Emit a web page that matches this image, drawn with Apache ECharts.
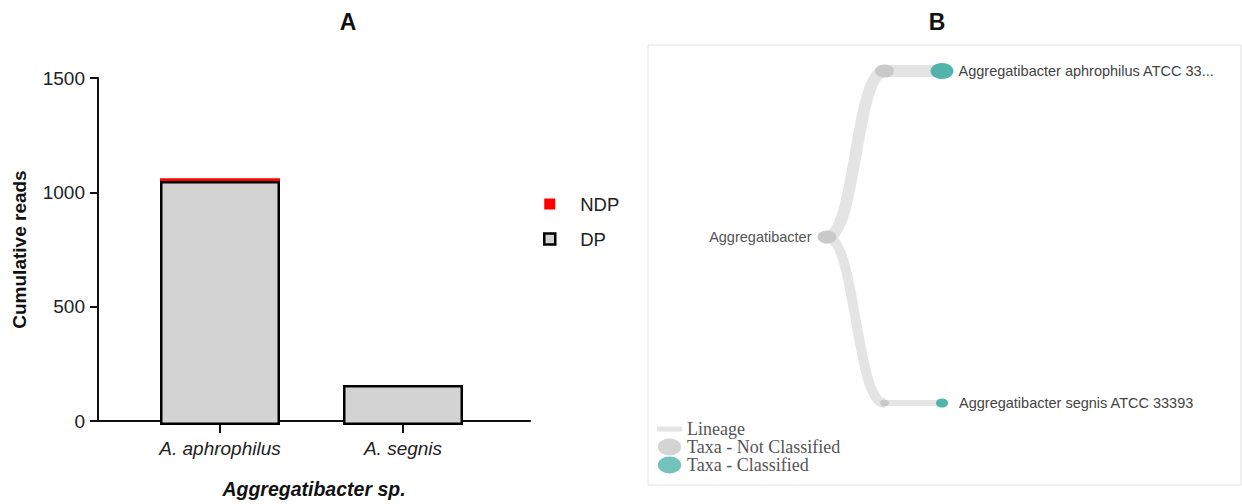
<!DOCTYPE html>
<html>
<head>
<meta charset="utf-8">
<script src="https://cdn.jsdelivr.net/npm/echarts@6/dist/echarts.min.js"></script>
<style>html,body{margin:0;padding:0;background:#fff}#c{width:1242px;height:504px}</style>
</head>
<body>
<div id="c"></div>
<script>
// ---- Panel A data ----
const categories = ['A. aphrophilus', 'A. segnis'];
const dpValues = [1055, 173];
const ndpValues = [12, 0];
const yTicks = [0, 500, 1000, 1500];

// ---- Panel B data ----
const rootName = 'Aggregatibacter';
const leafNames = ['Aggregatibacter aphrophilus ATCC 33...', 'Aggregatibacter segnis ATCC 33393'];
const treeLegend = ['Lineage', 'Taxa - Not Classified', 'Taxa - Classified'];

const SANS = '"Liberation Sans", Arial, sans-serif';
const SERIF = '"Liberation Serif", "Times New Roman", serif';
const GRAY_NODE = '#c9c9c9';
const TEAL = '#50b4ab';
const LINE = '#e4e4e4';

const treeData = {
  name: rootName,
  symbolSize: [19, 13],
  itemStyle: { color: GRAY_NODE },
  label: { show: true, position: 'left', distance: 6, fontSize: 14.5, color: '#555', fontFamily: SANS },
  children: [
    {
      name: 'aphrophilus-node',
      symbolSize: [19, 13],
      itemStyle: { color: GRAY_NODE },
      lineStyle: { width: 12, color: LINE },
      label: { show: false },
      children: [{
        name: leafNames[0],
        symbolSize: [23, 16],
        itemStyle: { color: TEAL },
        lineStyle: { width: 12, color: LINE },
        label: { show: true, position: 'right', distance: 5 }
      }]
    },
    {
      name: 'segnis-node',
      symbolSize: [9, 7],
      itemStyle: { color: GRAY_NODE },
      lineStyle: { width: 10, color: LINE },
      label: { show: false },
      children: [{
        name: leafNames[1],
        symbolSize: [12, 9],
        itemStyle: { color: TEAL },
        lineStyle: { width: 6, color: LINE },
        label: { show: true, position: 'right', distance: 11 }
      }]
    }
  ]
};

const chart = echarts.init(document.getElementById('c'), null, { renderer: 'svg' });
const option = {
  animation: false,
  backgroundColor: '#fff',
  title: [
    { text: 'A', left: 348, top: 10, textAlign: 'center', padding: 0,
      textStyle: { fontFamily: SANS, fontWeight: 'bold', fontSize: 23, color: '#111' } },
    { text: 'B', left: 937, top: 10, textAlign: 'center', padding: 0,
      textStyle: { fontFamily: SANS, fontWeight: 'bold', fontSize: 23, color: '#111' } }
  ],
  grid: [
    { left: 98, top: 78, width: 432, height: 347, containLabel: false },
    { left: 128.5, top: 78, width: 366, height: 347, containLabel: false },
    { left: 648, top: 45, width: 593, height: 440, show: true, borderColor: '#e2e2e2', borderWidth: 1, backgroundColor: 'transparent' }
  ],
  xAxis: [
    { gridIndex: 0, type: 'value', min: 0, max: 1,
      axisLine: { show: true, lineStyle: { color: '#111', width: 2 } },
      axisTick: { show: false }, axisLabel: { show: false }, splitLine: { show: false },
      name: 'Aggregatibacter sp.', nameLocation: 'middle', nameGap: 58,
      nameTextStyle: { fontFamily: SANS, fontWeight: 'bold', fontStyle: 'italic', fontSize: 19.5, color: '#111' } },
    { gridIndex: 1, type: 'category', data: categories,
      axisLine: { show: false },
      axisTick: { show: true, alignWithLabel: true, length: 8, lineStyle: { color: '#111', width: 2 } },
      axisLabel: { fontFamily: SANS, fontStyle: 'italic', fontSize: 19, color: '#222', margin: 14 } },
    { gridIndex: 2, type: 'value', show: false }
  ],
  yAxis: [
    { gridIndex: 0, type: 'value', min: 0, max: 1500, interval: 500,
      axisLine: { show: true, lineStyle: { color: '#111', width: 2 } },
      axisTick: { show: true, inside: false, length: 8, lineStyle: { color: '#111', width: 2 } },
      axisLabel: { fontFamily: SANS, fontSize: 19, color: '#222', margin: 13,
        formatter: v => (yTicks.indexOf(v) >= 0 ? String(v) : '') },
      splitLine: { show: false },
      name: 'Cumulative reads', nameLocation: 'middle', nameGap: 69,
      nameTextStyle: { fontFamily: SANS, fontWeight: 'bold', fontSize: 19, color: '#111' } },
    { gridIndex: 1, type: 'value', min: 0, max: 1500, show: false },
    { gridIndex: 2, type: 'value', show: false }
  ],
  legend: [
    { orient: 'vertical', left: 543, top: 193, padding: 0, itemWidth: 11, itemHeight: 11, itemGap: 13,
      selectedMode: false,
      textStyle: { fontFamily: SANS, fontSize: 18.5, color: '#222', lineHeight: 22, padding: [0, 0, 0, 20] },
      data: [
        { name: 'NDP', icon: 'rect', itemStyle: { color: '#ff0000', borderWidth: 0 } },
        { name: 'DP', icon: 'rect', itemStyle: { color: '#d3d3d3', borderColor: '#000', borderWidth: 2.5 } }
      ] },
    { orient: 'vertical', left: 657, top: 420, padding: 0, itemWidth: 25, itemHeight: 17, itemGap: 0,
      selectedMode: false,
      textStyle: { fontFamily: SERIF, fontSize: 18, color: '#555', lineHeight: 17 },
      data: [
        { name: treeLegend[0], icon: 'path://M0,0H25V5H0Z', itemStyle: { color: LINE } },
        { name: treeLegend[1], icon: 'path://M0,8A11,8 0 1,0 22,8A11,8 0 1,0 0,8Z', itemStyle: { color: GRAY_NODE } },
        { name: treeLegend[2], icon: 'path://M0,8A11,8 0 1,0 22,8A11,8 0 1,0 0,8Z', itemStyle: { color: TEAL } }
      ] }
  ],
  series: [
    { name: 'DP', type: 'bar', xAxisIndex: 1, yAxisIndex: 1, stack: 'reads', barWidth: 120,
      data: dpValues,
      itemStyle: { color: '#d3d3d3', borderColor: '#000', borderWidth: 2.5 } },
    { name: 'NDP', type: 'bar', xAxisIndex: 1, yAxisIndex: 1, stack: 'reads', barWidth: 120,
      data: ndpValues,
      itemStyle: { color: '#ff0000' } },
    { name: treeLegend[0], type: 'line', xAxisIndex: 2, yAxisIndex: 2, data: [], itemStyle: { color: LINE } },
    { name: treeLegend[1], type: 'scatter', xAxisIndex: 2, yAxisIndex: 2, data: [], itemStyle: { color: GRAY_NODE } },
    { name: treeLegend[2], type: 'scatter', xAxisIndex: 2, yAxisIndex: 2, data: [], itemStyle: { color: TEAL } },
    { type: 'tree', data: [treeData],
      left: 827, right: 300, top: -12, bottom: 18,
      orient: 'LR', layout: 'orthogonal', edgeShape: 'curve',
      expandAndCollapse: false, initialTreeDepth: -1, roam: false,
      symbol: 'circle',
      lineStyle: { color: LINE, width: 10, curveness: 0.5 },
      label: { fontSize: 14.5, color: '#444', fontFamily: SANS },
      leaves: { label: { position: 'right', verticalAlign: 'middle', align: 'left', fontSize: 14.5, color: '#444', fontFamily: SANS } },
      emphasis: { disabled: true }
    }
  ]
};
chart.setOption(option);
</script>
</body>
</html>
